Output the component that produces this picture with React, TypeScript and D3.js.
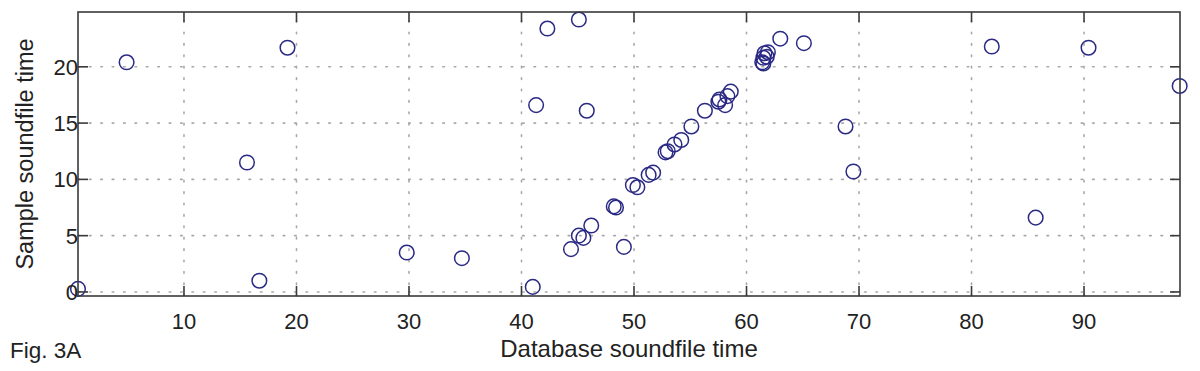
import React, { useRef, useEffect } from 'react';
import * as d3 from 'd3';

const dbTimes = [
    0.58, 4.9, 15.6, 16.7, 19.2, 29.8, 34.7, 41.0, 41.3, 42.3, 45.1, 45.8,
    44.4, 45.1, 45.5, 46.2, 48.2, 48.4, 49.1, 49.9, 50.3, 51.3, 51.7,
    52.8, 53.0, 53.6, 54.2, 55.1, 56.3, 57.5, 57.6, 58.1, 58.3, 58.6,
    61.4, 61.5, 61.6, 61.9, 61.8, 61.5, 63.0, 65.1,
    68.8, 69.5, 81.8, 85.7, 90.4, 98.5,
];
const sampleTimes = [
    0.27, 20.4, 11.5, 1.0, 21.7, 3.5, 3.0, 0.45, 16.6, 23.4, 24.2, 16.1,
    3.8, 5.0, 4.8, 5.9, 7.6, 7.5, 4.0, 9.5, 9.3, 10.4, 10.6,
    12.4, 12.5, 13.1, 13.5, 14.7, 16.1, 16.9, 17.1, 16.6, 17.4, 17.8,
    20.4, 20.8, 21.2, 21.3, 20.9, 20.3, 22.5, 22.1,
    14.7, 10.7, 21.8, 6.6, 21.7, 18.3,
];
const xTicks = [10, 20, 30, 40, 50, 60, 70, 80, 90];
const yTicks = [0, 5, 10, 15, 20];

const W = 1200;
const H = 371;
const FONT = '"Liberation Sans", Arial, Helvetica, sans-serif';

const App: React.FC = () => {
    const ref = useRef<SVGSVGElement>(null);

    useEffect(() => {
        if (!ref.current) return;
        const svg = d3.select(ref.current);
        svg.selectAll('*').remove();

        const left = 78, right = 1180, top = 12, bottom = 296;
        const x = d3.scaleLinear().domain([0.58, 98.53]).range([left, right]);
        const y = d3.scaleLinear().domain([-0.36, 24.87]).range([bottom, top]);

        svg.append('rect').attr('width', W).attr('height', H).attr('fill', '#fff');

        // dotted grid
        const grid = svg.append('g')
            .attr('stroke', '#a8a8a8')
            .attr('stroke-width', 1.6)
            .attr('stroke-dasharray', '1.6 9.8')
            .attr('stroke-linecap', 'round');
        xTicks.forEach(t => {
            grid.append('line')
                .attr('x1', x(t)).attr('x2', x(t))
                .attr('y1', bottom).attr('y2', top);
        });
        yTicks.forEach(t => {
            grid.append('line')
                .attr('x1', left).attr('x2', right)
                .attr('y1', y(t)).attr('y2', y(t));
        });

        // points
        svg.append('g')
            .selectAll('circle')
            .data(dbTimes.map((d, i) => [d, sampleTimes[i]]))
            .enter()
            .append('circle')
            .attr('cx', d => x(d[0]))
            .attr('cy', d => y(d[1]))
            .attr('r', 7.3)
            .attr('fill', 'none')
            .attr('stroke', '#2a2a85')
            .attr('stroke-width', 1.5);

        // frame and inward ticks
        const axes = svg.append('g').attr('stroke', '#3a3a3a').attr('stroke-width', 1.6);
        axes.append('rect')
            .attr('x', left).attr('y', top)
            .attr('width', right - left).attr('height', bottom - top)
            .attr('fill', 'none');
        const tl = 10;
        xTicks.forEach(t => {
            axes.append('line').attr('x1', x(t)).attr('x2', x(t)).attr('y1', bottom).attr('y2', bottom - tl);
            axes.append('line').attr('x1', x(t)).attr('x2', x(t)).attr('y1', top).attr('y2', top + tl);
        });
        yTicks.forEach(t => {
            axes.append('line').attr('x1', left).attr('x2', left + tl).attr('y1', y(t)).attr('y2', y(t));
            axes.append('line').attr('x1', right).attr('x2', right - tl).attr('y1', y(t)).attr('y2', y(t));
        });

        // tick labels
        const labels = svg.append('g')
            .attr('font-family', FONT)
            .attr('font-size', 22)
            .attr('fill', '#222');
        xTicks.forEach(t => {
            labels.append('text')
                .attr('x', x(t)).attr('y', 329)
                .attr('text-anchor', 'middle')
                .text(t);
        });
        yTicks.forEach(t => {
            labels.append('text')
                .attr('x', left).attr('y', y(t) + 8)
                .attr('text-anchor', 'end')
                .text(t);
        });

        // axis titles
        svg.append('text')
            .attr('x', (left + right) / 2).attr('y', 357)
            .attr('text-anchor', 'middle')
            .attr('font-family', FONT).attr('font-size', 24).attr('fill', '#222')
            .text('Database soundfile time');
        svg.append('text')
            .attr('transform', `translate(33,${(top + bottom) / 2}) rotate(-90)`)
            .attr('text-anchor', 'middle')
            .attr('font-family', FONT).attr('font-size', 23.5).attr('fill', '#222')
            .text('Sample soundfile time');
        svg.append('text')
            .attr('x', 10).attr('y', 358)
            .attr('font-family', FONT).attr('font-size', 22.5).attr('fill', '#222')
            .text('Fig. 3A');
    }, []);

    return (
        <svg
            ref={ref}
            width={W}
            height={H}
            style={{ position: 'absolute', left: 0, top: 0, display: 'block' }}
        />
    );
};

export default App;
